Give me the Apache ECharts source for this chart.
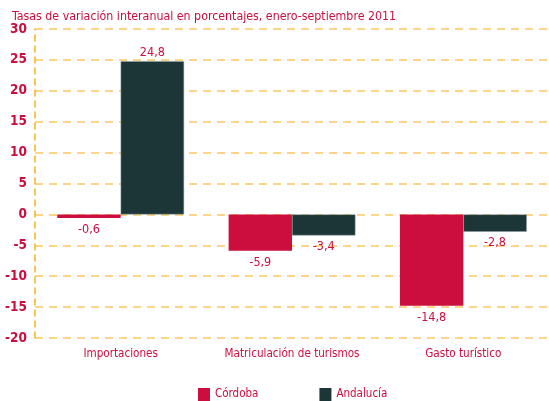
<!DOCTYPE html>
<html lang="es">
<head>
  <meta charset="UTF-8">
  <title>Tasas de variación interanual</title>
  <script src="https://cdn.jsdelivr.net/npm/echarts@6.0.0/dist/echarts.min.js"></script>
  <style>
    html, body { margin: 0; padding: 0; background: #fff; }
    #chart { width: 549px; height: 401px; }
  </style>
</head>
<body>
  <div id="chart"></div>
  <script>
    let categories = ['Importaciones', 'Matriculación de turismos', 'Gasto turístico'];
    let cordoba = [-0.6, -5.9, -14.8];
    let andalucia = [24.8, -3.4, -2.8];

    const red = '#cc0e3f';
    const dark = '#1c3536';
    const font = '"DejaVu Sans Condensed", sans-serif';

    function withLabels(values) {
      return values.map(v => ({
        value: v,
        label: v < 0 ? { position: 'bottom', distance: 5 } : { position: 'top', distance: 2 }
      }));
    }

    let chart = echarts.init(document.getElementById('chart'));
    let option = {
      animation: false,
      title: {
        text: 'Tasas de variación interanual en porcentajes, enero-septiembre 2011',
        left: 7,
        top: 6,
        textStyle: { color: '#c8103e', fontSize: 12.3, fontWeight: 'normal', fontFamily: font }
      },
      legend: {
        bottom: -5,
        left: 193,
        itemWidth: 12,
        itemHeight: 13,
        itemGap: 61,
        icon: 'rect',
        itemStyle: { borderWidth: 0 },
        textStyle: { color: red, fontSize: 11.5, fontFamily: font },
        data: ['Córdoba', 'Andalucía']
      },
      grid: { left: 35, right: 0, top: 29, bottom: 63, containLabel: false },
      xAxis: {
        type: 'category',
        data: categories,
        axisLine: { show: false },
        axisTick: { show: false },
        axisLabel: { interval: 0, color: red, fontSize: 11.6, fontFamily: font, margin: 10 },
        splitLine: { show: false }
      },
      yAxis: {
        type: 'value',
        min: -20,
        max: 30,
        interval: 5,
        axisLine: { show: true, lineStyle: { color: '#f5b31c', type: [6, 5], width: 1.5 } },
        axisTick: { show: false },
        axisLabel: { color: red, fontSize: 13.5, fontWeight: 'bold', fontFamily: font, margin: 8 },
        splitLine: { lineStyle: { color: '#fdd587', type: [8, 6], width: 2 } }
      },
      series: [
        {
          name: 'Córdoba',
          type: 'bar',
          data: withLabels(cordoba),
          barGap: '0%',
          barCategoryGap: '26%',
          itemStyle: { color: red },
          label: {
            show: true,
            color: red,
            fontSize: 12.5,
            fontFamily: font,
            formatter: p => String(p.value).replace('.', ',')
          }
        },
        {
          name: 'Andalucía',
          type: 'bar',
          data: withLabels(andalucia),
          itemStyle: { color: dark, borderColor: '#8a9a9a', borderWidth: 0.5 },
          label: {
            show: true,
            color: red,
            fontSize: 12.5,
            fontFamily: font,
            formatter: p => String(p.value).replace('.', ',')
          }
        }
      ]
    };
    chart.setOption(option);
  </script>
</body>
</html>
